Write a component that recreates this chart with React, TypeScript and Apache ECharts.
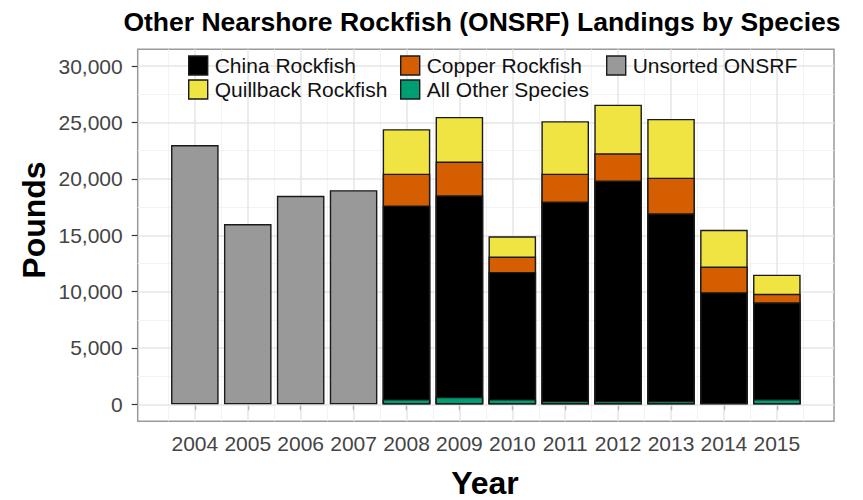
import React, { useEffect, useRef } from 'react';
import * as echarts from 'echarts';

const FONT = '"Liberation Sans", Arial, sans-serif';

const tickYears = [2004, 2005, 2006, 2007, 2008, 2009, 2010, 2011, 2012, 2013, 2014, 2015];
const minorYears = [2003.5, 2004.5, 2005.5, 2006.5, 2007.5, 2008.5, 2009.5, 2010.5, 2011.5, 2012.5, 2013.5, 2014.5, 2015.5];
const yTicks = [0, 5000, 10000, 15000, 20000, 25000, 30000];
const yMinor = [2500, 7500, 12500, 17500, 22500, 27500];

const unsortedYears = [2004, 2005, 2006, 2007];
const unsortedValues = [23000, 16000, 18500, 19000];

const speciesYears = [2008, 2009, 2010, 2011, 2012, 2013, 2014, 2015];
const allOtherValues = [450, 650, 450, 300, 300, 300, 0, 470];
const chinaValues = [17200, 17900, 11300, 17700, 19550, 16650, 9950, 8580];
const copperValues = [2810, 2990, 1360, 2460, 2420, 3160, 2270, 760];
const quillbackValues = [3950, 3960, 1800, 4660, 4320, 5210, 3260, 1690];

const COLORS = {
  china: '#000000',
  copper: '#D55E00',
  unsorted: '#999999',
  quillback: '#F0E442',
  other: '#009E73',
};

function fmtThousands(v: number) {
  return String(v).replace(/\B(?=(\d{3})+(?!\d))/g, ',');
}

export default function App() {
  const ref = useRef<HTMLDivElement>(null);

  useEffect(() => {
    if (!ref.current) return;
    const chart = echarts.init(ref.current, undefined, { renderer: 'svg' });

    // cumulative tops for overlapping (stack-equivalent) drawing
    const lvl1 = allOtherValues.map((v) => v);
    const lvl2 = lvl1.map((v, i) => v + chinaValues[i]);
    const lvl3 = lvl2.map((v, i) => v + copperValues[i]);
    const lvl4 = lvl3.map((v, i) => v + quillbackValues[i]);
    const pairs = (ys: number[], vals: number[]) =>
      ys.map((y, i) => [y, vals[i]]).filter((p) => p[1] > 0);

    const barBase = {
      type: 'bar',
      barWidth: 47.6,
      barGap: '-100%',
      z: 2,
      itemStyle: { borderColor: '#1a1a1a', borderWidth: 1.4 },
      emphasis: { disabled: true },
      silent: true,
    };

    const gridLines: any[] = [];
    yMinor.forEach((v) => gridLines.push({ yAxis: v, lineStyle: { color: '#f3f3f3', width: 1, type: 'solid' } }));
    minorYears.forEach((v) => gridLines.push({ xAxis: v, lineStyle: { color: '#f3f3f3', width: 1, type: 'solid' } }));
    yTicks.forEach((v) => gridLines.push({ yAxis: v, lineStyle: { color: '#e6e6e6', width: 1.5, type: 'solid' } }));
    tickYears.forEach((v) => gridLines.push({ xAxis: v, lineStyle: { color: '#e6e6e6', width: 1.5, type: 'solid' } }));

    const legendCommon = {
      orient: 'horizontal',
      padding: 0,
      itemWidth: 19,
      itemHeight: 19,
      icon: 'rect',
      selectedMode: false,
      textStyle: { fontSize: 21, color: '#111', fontFamily: FONT, padding: [0, 0, 0, 2] },
    };
    const legendItem = (name: string, color: string, left: number, top: number) => ({
      ...legendCommon,
      left,
      top,
      data: [{ name, itemStyle: { color, borderColor: '#1a1a1a', borderWidth: 1.4 } }],
    });

    const option: any = {
      animation: false,
      backgroundColor: '#ffffff',
      grid: {
        left: 137.7,
        right: 29,
        top: 49.3,
        bottom: 78.8,
        show: true,
        backgroundColor: '#ffffff',
        borderColor: '#9a9a9a',
        borderWidth: 1.5,
        containLabel: false,
        outerBoundsMode: 'none',
      },
      xAxis: {
        type: 'value',
        min: 2002.92,
        max: 2016.08,
        splitNumber: 13,
        axisLine: { show: false },
        splitLine: { show: false },
        axisTick: { show: true, length: 6, lineStyle: { color: '#333', width: 1.2 }, customValues: tickYears },
        axisLabel: {
          customValues: tickYears,
          fontSize: 21,
          color: '#444444',
          fontFamily: FONT,
          margin: 12,
          formatter: (v: number) => (tickYears.indexOf(Math.round(v * 1000) / 1000) >= 0 ? String(v) : ''),
        },
      },
      yAxis: {
        type: 'value',
        min: -1500,
        max: 31500,
        splitNumber: 6,
        axisLine: { show: false },
        splitLine: { show: false },
        axisTick: { show: true, length: 6, lineStyle: { color: '#333', width: 1.2 }, customValues: yTicks },
        axisLabel: {
          customValues: yTicks,
          fontSize: 21,
          color: '#444444',
          fontFamily: FONT,
          margin: 15,
          formatter: (v: number) => (yTicks.indexOf(v) >= 0 ? fmtThousands(v) : ''),
        },
      },
      legend: [
        legendItem('China Rockfish', COLORS.china, 188, 55),
        legendItem('Copper Rockfish', COLORS.copper, 400, 55),
        legendItem('Unsorted ONSRF', COLORS.unsorted, 606, 55),
        legendItem('Quillback Rockfish', COLORS.quillback, 188, 79),
        legendItem('All Other Species', COLORS.other, 400, 79),
      ],
      graphic: [
        {
          type: 'text',
          x: 482,
          y: 22,
          style: {
            text: 'Other Nearshore Rockfish (ONSRF) Landings by Species',
            font: `bold 26.5px ${FONT}`,
            fill: '#000',
            align: 'center',
            verticalAlign: 'middle',
          },
        },
        {
          type: 'text',
          x: 34,
          y: 220,
          rotation: Math.PI / 2,
          style: {
            text: 'Pounds',
            font: `bold 32px ${FONT}`,
            fill: '#000',
            align: 'center',
            verticalAlign: 'middle',
          },
        },
        {
          type: 'text',
          x: 485,
          y: 483,
          style: {
            text: 'Year',
            font: `bold 32px ${FONT}`,
            fill: '#000',
            align: 'center',
            verticalAlign: 'middle',
          },
        },
      ],
      series: [
        {
          ...barBase,
          name: 'Quillback Rockfish',
          data: pairs(speciesYears, lvl4),
          itemStyle: { ...barBase.itemStyle, color: COLORS.quillback },
          markLine: {
            silent: true,
            symbol: 'none',
            z: 1,
            animation: false,
            label: { show: false },
            emphasis: { disabled: true },
            data: gridLines,
          },
        },
        {
          ...barBase,
          name: 'Copper Rockfish',
          data: pairs(speciesYears, lvl3),
          itemStyle: { ...barBase.itemStyle, color: COLORS.copper },
        },
        {
          ...barBase,
          name: 'China Rockfish',
          data: pairs(speciesYears, lvl2),
          itemStyle: { ...barBase.itemStyle, color: COLORS.china },
        },
        {
          ...barBase,
          name: 'All Other Species',
          data: pairs(speciesYears, lvl1),
          itemStyle: { ...barBase.itemStyle, color: COLORS.other },
        },
        {
          ...barBase,
          name: 'Unsorted ONSRF',
          data: pairs(unsortedYears, unsortedValues),
          itemStyle: { ...barBase.itemStyle, color: COLORS.unsorted },
        },
      ],
    };

    chart.setOption(option);
    return () => chart.dispose();
  }, []);

  return (
    <div
      ref={ref}
      style={{ position: 'fixed', left: 0, top: 0, width: 863, height: 500, background: '#fff' }}
    />
  );
}
